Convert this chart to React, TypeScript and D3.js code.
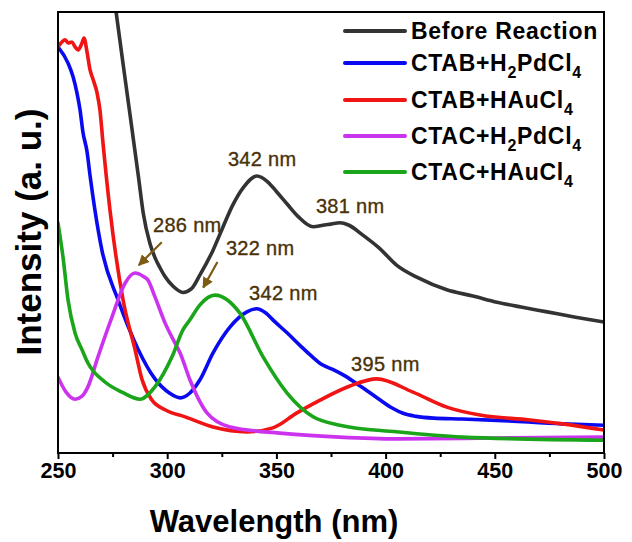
import React, { useEffect, useRef } from 'react';
import * as d3 from 'd3';

// wavelength (nm) / intensity (a.u., 0-100 across the plot height)
const blackW = [275, 276.6, 280, 284, 287, 289, 292.1, 294.5, 296.7, 299, 302.7, 307.2, 311, 315, 321, 325.5, 330, 335, 341, 346, 350, 355, 360, 366.8, 372, 375, 379, 383, 389.6, 397, 405, 415, 428, 440, 451, 462, 474, 487, 500];
const blackI = [106, 100, 87.5, 73, 62, 54.5, 47.5, 44.2, 42, 40, 37.8, 36.4, 37.2, 40.4, 46.0, 51.2, 56.2, 60.3, 62.8, 61.5, 59.3, 56.4, 53.6, 51.3, 51.7, 51.9, 52.2, 51.7, 49.4, 46.5, 42.6, 39.7, 37.0, 35.6, 34.2, 33.1, 32.0, 30.8, 29.7];

const blueW = [250, 254.6, 256.9, 258.7, 260.1, 261.4, 263.3, 264.7, 266.9, 270.1, 277.5, 286.6, 294.4, 301, 306, 310.4, 315, 321, 328.8, 336.5, 341, 345, 349, 355, 361, 366, 371, 376, 381, 386, 391, 397, 403, 408, 414, 422, 435, 451, 481, 500];
const blueI = [92.1, 88.4, 85.3, 81.6, 77.8, 72.8, 68.3, 62.8, 55.1, 46.0, 34.7, 23.6, 16.8, 13.6, 12.5, 13.6, 16.6, 22.7, 28.6, 32.0, 32.7, 31.8, 29.9, 27.2, 24.3, 22.0, 20.0, 18.9, 17.6, 16.0, 14.3, 12.2, 10.2, 9.0, 8.3, 7.9, 7.7, 7.4, 6.6, 6.3];

const redW = [250, 251.8, 253.2, 254.6, 256.4, 257.8, 259.2, 261, 261.9, 263.3, 264.7, 266, 267.9, 269.2, 270.6, 273.8, 279.8, 285.3, 288.5, 293, 299, 308.2, 321, 336.5, 348.4, 359.4, 370, 383.7, 396, 412.5, 428, 443.2, 466, 481, 500];
const redI = [92.1, 93.2, 93.7, 93.0, 93.2, 92.1, 91.4, 93.0, 94.1, 90.9, 86.8, 84.8, 81.6, 77.8, 70.3, 55.1, 34.7, 23.4, 16.6, 12.0, 9.8, 8.2, 5.9, 4.8, 5.7, 9.1, 12.0, 15.2, 16.8, 13.8, 10.4, 8.6, 7.5, 6.6, 5.2];

const magW = [250, 253.7, 257.8, 261, 263.7, 268.3, 274.7, 280.7, 285.3, 288.9, 291.2, 294.4, 299, 303.6, 305.9, 310.4, 318.2, 328.8, 351.6, 379, 405, 451, 500];
const magI = [17.2, 13.8, 12.2, 12.9, 15.0, 21.8, 30.8, 38.5, 40.8, 40.1, 39.2, 35.4, 29.5, 24.9, 22.7, 16.6, 9.1, 5.9, 4.5, 3.6, 3.2, 3.4, 3.6];

const greenW = [250, 252.3, 254.6, 257.8, 261, 263.7, 271.5, 279.3, 287.5, 294.4, 302.2, 307.2, 310.4, 315, 321.9, 333.3, 343.9, 354.9, 366.8, 379, 405, 435, 500];
const greenI = [52.2, 44.4, 34.7, 27.2, 23.4, 20.4, 16.1, 13.8, 12.2, 15.0, 21.8, 27.9, 30.2, 33.6, 35.8, 31.7, 21.8, 13.6, 8.2, 6.3, 4.8, 3.6, 2.9];

const seriesNames = ['Before Reaction', 'CTAB+H2PdCl4', 'CTAB+HAuCl4', 'CTAC+H2PdCl4', 'CTAC+HAuCl4'];
const seriesColors = ['#333333', '#0a0af0', '#f01414', '#cc33ee', '#1aa51a'];

const xTicks = [250, 300, 350, 400, 450, 500];
const xMinor = [275, 325, 375, 425, 475];

// annotations: label, wavelength and intensity where the text starts (baseline)
const noteText = ['342 nm', '381 nm', '286 nm', '322 nm', '342 nm', '395 nm'];
const noteW = [327.8, 368.1, 293.5, 326.9, 337.5, 384.2];
const noteI = [65.1, 54.4, 50.1, 44.9, 34.7, 18.6];

const FONT = '"Liberation Sans", Arial, Helvetica, sans-serif';

const App = () => {
    const ref = useRef(null);

    useEffect(() => {
        const width = 632;
        const height = 542;
        const left = 58, right = 604, top = 12, bottom = 453;

        const root = d3.select(ref.current);
        root.selectAll('*').remove();
        const svg = root
            .append('svg')
            .attr('width', width)
            .attr('height', height)
            .style('position', 'absolute')
            .style('left', 0)
            .style('top', 0)
            .style('background', '#fff');

        const x = d3.scaleLinear().domain([250, 500]).range([left, right]);
        const y = d3.scaleLinear().domain([0, 100]).range([bottom, top]);

        const defs = svg.append('defs');
        defs.append('clipPath')
            .attr('id', 'plot-clip')
            .append('rect')
            .attr('x', left)
            .attr('y', top)
            .attr('width', right - left)
            .attr('height', bottom - top);

        defs.append('marker')
            .attr('id', 'arrowhead')
            .attr('viewBox', '0 0 10 10')
            .attr('refX', 9)
            .attr('refY', 5)
            .attr('markerWidth', 5)
            .attr('markerHeight', 5)
            .attr('orient', 'auto')
            .append('path')
            .attr('d', 'M0,0 L10,5 L0,10 Z')
            .attr('fill', '#7d5b14');

        const line = d3.line()
            .x(d => x(d[0]))
            .y(d => y(d[1]))
            .curve(d3.curveMonotoneX);

        const all = [
            [blackW, blackI],
            [blueW, blueI],
            [redW, redI],
            [magW, magI],
            [greenW, greenI],
        ];

        const g = svg.append('g').attr('clip-path', 'url(#plot-clip)');
        all.forEach(([ws, is], k) => {
            const pts = ws.map((w, i) => [w, is[i]]);
            g.append('path')
                .attr('d', line(pts))
                .attr('fill', 'none')
                .attr('stroke', seriesColors[k])
                .attr('stroke-width', 3.6)
                .attr('stroke-linejoin', 'round')
                .attr('stroke-linecap', 'round');
        });

        // frame
        svg.append('rect')
            .attr('x', left)
            .attr('y', top)
            .attr('width', right - left)
            .attr('height', bottom - top)
            .attr('fill', 'none')
            .attr('stroke', '#000')
            .attr('stroke-width', 2);

        // x axis
        const ax = svg.append('g')
            .attr('transform', `translate(0,${bottom})`)
            .call(d3.axisBottom(x).tickValues(xTicks).tickSize(6).tickSizeOuter(0).tickPadding(4));
        ax.select('.domain').remove();
        ax.selectAll('line').attr('stroke', '#000').attr('stroke-width', 2);
        ax.selectAll('text')
            .attr('font-family', FONT)
            .attr('font-size', 21.5)
            .attr('font-weight', 'bold')
            .attr('fill', '#000');
        svg.append('g')
            .attr('transform', `translate(0,${bottom})`)
            .call(d3.axisBottom(x).tickValues(xMinor).tickSize(4).tickFormat(() => ''))
            .call(s => s.select('.domain').remove())
            .selectAll('line')
            .attr('stroke', '#000')
            .attr('stroke-width', 2);

        svg.append('text')
            .attr('x', 274)
            .attr('y', 532)
            .attr('text-anchor', 'middle')
            .attr('font-family', FONT)
            .attr('font-size', 31)
            .attr('font-weight', 'bold')
            .text('Wavelength (nm)');

        svg.append('text')
            .attr('transform', 'translate(41,232) rotate(-90)')
            .attr('text-anchor', 'middle')
            .attr('font-family', FONT)
            .attr('font-size', 35)
            .attr('font-weight', 'bold')
            .text('Intensity (a. u.)');

        // legend
        const legendY = [31, 63, 100, 136, 172];
        seriesNames.forEach((name, k) => {
            const ly = legendY[k];
            svg.append('line')
                .attr('x1', 345).attr('x2', 405)
                .attr('y1', ly).attr('y2', ly)
                .attr('stroke', seriesColors[k])
                .attr('stroke-width', 4)
                .attr('stroke-linecap', 'round');
            const t = svg.append('text')
                .attr('x', 411)
                .attr('y', ly + 8)
                .attr('font-family', FONT)
                .attr('font-size', 23)
                .attr('font-weight', 'bold')
                .attr('letter-spacing', 0.7)
                .attr('fill', '#000');
            // digits become subscripts
            let shift = 0;
            name.split(/(\d)/).filter(s => s.length).forEach(part => {
                if (/\d/.test(part)) {
                    t.append('tspan').attr('dy', 7 - shift).attr('font-size', 16).text(part);
                    shift = 7;
                } else {
                    t.append('tspan').attr('dy', -shift).text(part);
                    shift = 0;
                }
            });
        });

        // peak labels
        noteText.forEach((txt, i) => {
            svg.append('text')
                .attr('x', x(noteW[i]))
                .attr('y', y(noteI[i]))
                .attr('font-family', FONT)
                .attr('font-size', 20)
                .attr('letter-spacing', 0.3)
                .attr('fill', '#4a3208')
                .attr('stroke', '#4a3208')
                .attr('stroke-width', 0.35)
                .text(txt);
        });

        // arrows (286 nm, 322 nm)
        const arrows = [
            [[297.5, 47.8], [287, 42.6]],
            [[323, 43.3], [316.5, 37.5]],
        ];
        arrows.forEach(([a, b]) => {
            svg.append('line')
                .attr('x1', x(a[0])).attr('y1', y(a[1]))
                .attr('x2', x(b[0])).attr('y2', y(b[1]))
                .attr('stroke', '#7d5b14')
                .attr('stroke-width', 2.2)
                .attr('marker-end', 'url(#arrowhead)');
        });
    }, []);

    return <div ref={ref}></div>;
};

export default App;
